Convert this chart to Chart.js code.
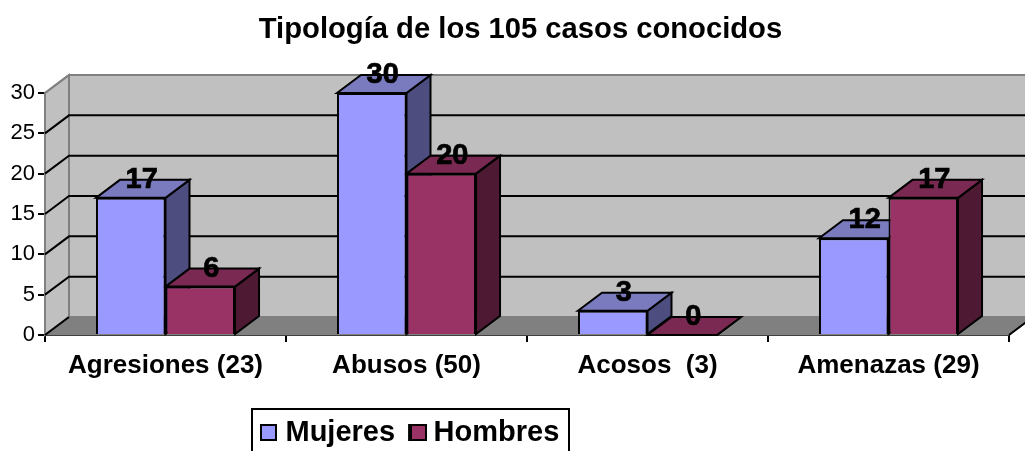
<!DOCTYPE html>
<html><head><meta charset="utf-8">
<style>html,body{margin:0;padding:0;background:#fff;overflow:hidden}canvas{display:block}</style>
<script src="https://cdn.jsdelivr.net/npm/chart.js@4"></script></head>
<body><canvas id="c" width="1025" height="451"></canvas>
<script>
const titleText = "Tipología de los 105 casos conocidos";
const categories = ["Agresiones (23)", "Abusos (50)", "Acosos  (3)", "Amenazas (29)"];
const mujeres = [17, 30, 3, 12];
const hombres = [6, 20, 0, 17];
const yTicks = [0, 5, 10, 15, 20, 25, 30];
const FONT = '"Liberation Sans", Arial, sans-serif';
const DX = 24, DY = -18;

function poly(ctx, pts, fill, stroke, lw) {
  ctx.beginPath();
  pts.forEach((p, i) => i ? ctx.lineTo(p[0], p[1]) : ctx.moveTo(p[0], p[1]));
  ctx.closePath();
  if (fill) { ctx.fillStyle = fill; ctx.fill(); }
  if (stroke) { ctx.strokeStyle = stroke; ctx.lineWidth = lw; ctx.stroke(); }
}

const shadows = [{top: '#7A7ABF', side: '#4D4D80'}, {top: '#7A2952', side: '#4D1933'}];
const seriesColors = ['#9999FF', '#993366'];

const plugin3d = {
  id: 'plugin3d',
  afterLayout(chart) {
    const l = chart.legend;
    l.left = 247; l.right = 1025; l.top = 404;
    const t = chart.titleBlock;
    t.left += 16; t.right += 16;
  },
  beforeDatasetsDraw(chart) {
    const {ctx, chartArea: a, scales: {y}} = chart;
    ctx.save();
    ctx.lineJoin = 'miter';
    const y0 = y.getPixelForValue(0), yT = y.getPixelForValue(30);
    poly(ctx, [[a.left, y0], [a.left, yT], [a.left + DX, yT + DY], [a.left + DX, y0 + DY]], '#C0C0C0', '#808080', 2);
    poly(ctx, [[a.left + DX, yT + DY], [a.right + DX, yT + DY], [a.right + DX, y0 + DY], [a.left + DX, y0 + DY]], '#C0C0C0', '#808080', 2);
    poly(ctx, [[a.left, y0], [a.left + DX, y0 + DY], [a.right + DX, y0 + DY], [a.right, y0]], '#808080', '#808080', 1);
    ctx.strokeStyle = '#000'; ctx.lineWidth = 2;
    yTicks.forEach(v => {
      const p = y.getPixelForValue(v);
      if (v === 30) return;
      ctx.beginPath();
      ctx.moveTo(a.left, p); ctx.lineTo(a.left + DX, p + DY);
      if (v !== 0) ctx.lineTo(a.right + DX, p + DY);
      ctx.stroke();
    });
    ctx.beginPath(); ctx.moveTo(a.left, yT); ctx.lineTo(a.left + DX, yT + DY); ctx.strokeStyle = '#808080'; ctx.stroke();
    ctx.beginPath(); ctx.moveTo(a.right, y0); ctx.lineTo(a.right + DX, y0 + DY); ctx.strokeStyle = '#000'; ctx.stroke();
    [0, 1].forEach(d => {
      chart.getDatasetMeta(d).data.forEach(b => {
        const l = b.x - b.width / 2, r = b.x + b.width / 2, t = b.y, base = b.base;
        poly(ctx, [[r, t], [r + DX, t + DY], [r + DX, base + DY], [r, base]], shadows[d].side, '#000', 2);
        poly(ctx, [[l, t], [l + DX, t + DY], [r + DX, t + DY], [r, t]], shadows[d].top, '#000', 2);
      });
    });
    ctx.restore();
  },
  afterDatasetsDraw(chart) {
    const {ctx} = chart;
    ctx.save();
    ctx.fillStyle = '#000'; ctx.strokeStyle = '#000'; ctx.lineWidth = 0.7;
    ctx.font = 'bold 29px ' + FONT;
    ctx.textAlign = 'center'; ctx.textBaseline = 'middle';
    [mujeres, hombres].forEach((vals, d) => {
      chart.getDatasetMeta(d).data.forEach((b, i) => {
        ctx.fillText(String(vals[i]), b.x + 11, b.y - 18);
        ctx.strokeText(String(vals[i]), b.x + 11, b.y - 18);
      });
    });
    ctx.restore();
  },
  afterDraw(chart) {
    const {ctx} = chart;
    ctx.save();
    ctx.strokeStyle = '#000'; ctx.lineWidth = 2;
    ctx.strokeRect(252, 409, 317, 60);
    seriesColors.forEach((c, i) => {
      const x = [261, 411][i];
      ctx.fillStyle = c;
      ctx.fillRect(x, 425, 15, 15);
      ctx.strokeRect(x, 425, 15, 15);
    });
    ctx.restore();
  }
};

new Chart(document.getElementById('c'), {
  type: 'bar',
  data: {
    labels: categories,
    datasets: [
      {label: 'Mujeres', data: mujeres, backgroundColor: seriesColors[0], borderColor: '#000', borderWidth: 2},
      {label: 'Hombres', data: hombres, backgroundColor: seriesColors[1], borderColor: '#000', borderWidth: 2}
    ]
  },
  plugins: [plugin3d],
  options: {
    responsive: false,
    animation: false,
    layout: {padding: {left: 0, right: 16, top: 0, bottom: 0}},
    datasets: {bar: {categoryPercentage: 0.577, barPercentage: 1}},
    plugins: {
      tooltip: {enabled: false},
      title: {display: true, text: titleText, color: '#000',
        font: {family: FONT, size: 29.2, weight: 'bold', lineHeight: 1},
        padding: {top: 15, bottom: 48.8}},
      legend: {position: 'bottom', align: 'start',
        labels: {color: '#000', boxWidth: 10, boxHeight: 15, padding: 14,
          font: {family: FONT, size: 29, weight: 'bold'}}}
    },
    scales: {
      x: {
        grid: {drawOnChartArea: false, color: '#000', lineWidth: 2, tickLength: 7, offset: true},
        border: {color: '#000', width: 2},
        ticks: {color: '#000', padding: 8, maxRotation: 0, autoSkip: false,
          font: {family: FONT, size: 26, weight: 'bold'}},
        afterFit(s) { s.height = 451 - 335 - s.chart.legend.height; }
      },
      y: {
        min: 0, max: 30,
        grid: {drawOnChartArea: false, color: '#000', lineWidth: 2, tickLength: 7},
        border: {color: '#000', width: 2},
        ticks: {color: '#000', padding: 3, stepSize: 5, font: {family: FONT, size: 22}},
        afterFit(s) { s.width = 45; }
      }
    }
  }
});
</script></body></html>
